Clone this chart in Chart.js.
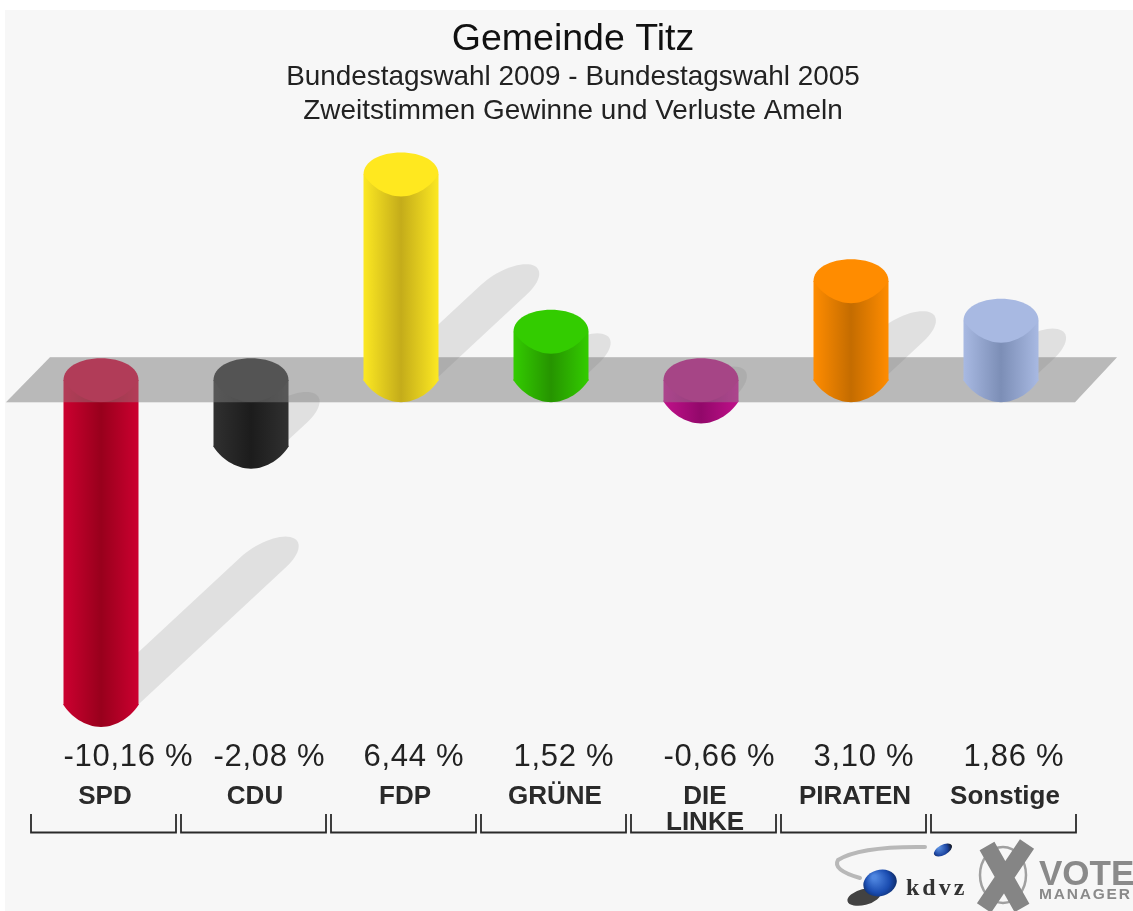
<!DOCTYPE html>
<html lang="de">
<head>
<meta charset="utf-8">
<title>Gemeinde Titz</title>
<script src="https://cdn.jsdelivr.net/npm/chart.js@4/dist/chart.umd.js"></script>
<style>
html,body{margin:0;padding:0;width:1133px;height:911px;overflow:hidden;background:#fff}
#wrap{position:absolute;left:5px;top:10px;width:1136px;height:901px}
canvas{filter:blur(0.7px)}
</style>
</head>
<body>
<div id="wrap"><canvas id="c" width="1136" height="901"></canvas></div>
<script>
const categories = ['SPD','CDU','FDP','GRÜNE',['DIE','LINKE'],'PIRATEN','Sonstige'];
const values = [-10.16,-2.08,6.44,1.52,-0.66,3.10,1.86];
const valueLabels = ['-10,16 %','-2,08 %','6,44 %','1,52 %','-0,66 %','3,10 %','1,86 %'];
const edgeColors = ['#cc0030','#303030','#fce822','#33cc00','#c0108a','#ff8c00','#a8b9e2'];
const coreColors = ['#98001c','#1c1c1c','#c4ac1a','#269400','#92086a','#c46c00','#7c8eb6'];
const capColors = ['#c80030','#2a2a2a','#ffe81f','#33cc00','#b5107e','#ff8c00','#a8b9e2'];
const titleText = 'Gemeinde Titz';
const subtitleLines = ['Bundestagswahl 2009 - Bundestagswahl 2005','Zweitstimmen Gewinne und Verluste Ameln'];
const positives = values.map(v => v > 0 ? v : null);
const negatives = values.map(v => v < 0 ? v : null);

function barFill(ctx){
  const chart = ctx.chart, x = chart.scales && chart.scales.x;
  if(!chart.chartArea || !x || x.width===0) return edgeColors[ctx.dataIndex||0];
  const i = ctx.dataIndex, cx = x.getPixelForValue(i), w = x.width/categories.length/4;
  const g = chart.ctx.createLinearGradient(cx-w,0,cx+w,0);
  g.addColorStop(0,edgeColors[i]); g.addColorStop(0.5,coreColors[i]); g.addColorStop(1,edgeColors[i]);
  return g;
}
const RY = 22;
function eachBar(chart, dsIndex, fn){
  chart.getDatasetMeta(dsIndex).data.forEach((el,i)=>{
    if(chart.data.datasets[dsIndex].data[i]===null) return;
    fn(el,i);
  });
}
function lowerEdge(ctx,cx,cy,r){
  ctx.lineTo(cx-r,cy);
  ctx.bezierCurveTo(cx-r*0.82,cy+RY*0.5,cx-r*0.42,cy+RY,cx,cy+RY);
  ctx.bezierCurveTo(cx+r*0.42,cy+RY,cx+r*0.82,cy+RY*0.5,cx+r,cy);
}
function endCap(ctx,cx,cy,r){
  ctx.beginPath(); ctx.moveTo(cx-r,cy-1); lowerEdge(ctx,cx,cy,r); ctx.lineTo(cx+r,cy-1); ctx.closePath();
}
function fullCap(ctx,cx,cy,r){
  ctx.beginPath(); ctx.moveTo(cx-r,cy);
  ctx.bezierCurveTo(cx-r,cy-RY*0.6,cx-r*0.55,cy-RY,cx,cy-RY);
  ctx.bezierCurveTo(cx+r*0.55,cy-RY,cx+r,cy-RY*0.6,cx+r,cy);
  ctx.bezierCurveTo(cx+r*0.82,cy+RY*0.5,cx+r*0.42,cy+RY,cx,cy+RY);
  ctx.bezierCurveTo(cx-r*0.42,cy+RY,cx-r*0.82,cy+RY*0.5,cx-r,cy);
  ctx.closePath();
}
function bandPath(ctx, y0){
  ctx.beginPath();
  ctx.moveTo(1,y0+22); ctx.lineTo(45,y0-23); ctx.lineTo(1112,y0-23); ctx.lineTo(1070,y0+22); ctx.closePath();
}
function drawShadow(ctx, cx, by, h){
  const ex = cx+0.5*h, ey = by-0.44*h, baseY = ey+(ex-cx)*0.93;
  const a=[35,-13], c=[-5,22], dx=ex-cx, dy=ey-baseY, len=Math.hypot(dx,dy)||1;
  const n=[-dy/len,dx/len];
  const t1=Math.atan2(c[0]*n[0]+c[1]*n[1],a[0]*n[0]+a[1]*n[1]);
  const pt=(ox,oy,t)=>[ox+a[0]*Math.cos(t)+c[0]*Math.sin(t),oy+a[1]*Math.cos(t)+c[1]*Math.sin(t)];
  const mid=pt(0,0,t1+Math.PI/2), s=(mid[0]*dx+mid[1]*dy)>0?1:-1;
  ctx.save();
  ctx.beginPath(); ctx.rect(cx+8,0,2000,by+5); ctx.clip();
  ctx.beginPath();
  for(let k=0;k<=32;k++){const p=pt(ex,ey,t1+s*Math.PI*k/32); k?ctx.lineTo(p[0],p[1]):ctx.moveTo(p[0],p[1]);}
  for(let k=32;k<=64;k++){const p=pt(cx,baseY,t1+s*Math.PI*k/32); ctx.lineTo(p[0],p[1]);}
  ctx.closePath(); ctx.fillStyle='rgba(0,0,0,0.09)'; ctx.fill();
  ctx.restore();
}
const cylinders = {
  id:'cylinders',
  beforeDraw(chart){
    const ctx=chart.ctx; ctx.save(); ctx.fillStyle='#f7f7f7'; ctx.fillRect(0,0,chart.width,chart.height); ctx.restore();
  },
  beforeDatasetsDraw(chart){
    const ctx=chart.ctx, y0=chart.scales.y.getPixelForValue(0), x=chart.scales.x;
    ctx.save();
    values.forEach((v,i)=>{
      const py=chart.scales.y.getPixelForValue(v);
      drawShadow(ctx,x.getPixelForValue(i), v<0?py:y0, Math.abs(py-y0));
    });
    bandPath(ctx,y0); ctx.fillStyle='rgba(0,0,0,0.14)'; ctx.fill();
    ctx.restore();
  },
  afterDatasetDraw(chart,args){
    const ctx=chart.ctx, y0=chart.scales.y.getPixelForValue(0);
    ctx.save();
    if(args.index===1){
      eachBar(chart,1,(el,i)=>{
        const r=el.width/2;
        ctx.fillStyle=barFill({chart,dataIndex:i});
        endCap(ctx,el.x,el.y,r); ctx.fill();
        ctx.fillStyle=capColors[i];
        fullCap(ctx,el.x,y0,r); ctx.fill();
      });
      bandPath(ctx,y0); ctx.fillStyle='rgba(146,146,146,0.41)'; ctx.fill();
    } else {
      eachBar(chart,0,(el,i)=>{
        const r=el.width/2;
        ctx.fillStyle=barFill({chart,dataIndex:i});
        endCap(ctx,el.x,y0,r); ctx.fill();
        ctx.fillStyle=capColors[i];
        fullCap(ctx,el.x,el.y,r); ctx.fill();
      });
    }
    ctx.restore();
  },
  afterDraw(chart){
    const ctx=chart.ctx, x=chart.scales.x, a=x.width/categories.length;
    ctx.save();
    // value labels, left aligned with each bar
    ctx.font='31px "Liberation Sans"'; ctx.fillStyle='#222'; ctx.textBaseline='middle'; ctx.textAlign='left';
    ctx.letterSpacing='0.7px';
    valueLabels.forEach((t,i)=>ctx.fillText(t,x.getPixelForValue(i)-a/4,747));
    ctx.letterSpacing='0px';
    // brackets under each category
    ctx.strokeStyle='#2a2a2a'; ctx.lineWidth=1.8;
    categories.forEach((c,i)=>{
      const cx=x.getPixelForValue(i);
      ctx.beginPath(); ctx.moveTo(cx-70,804); ctx.lineTo(cx-70,822.5); ctx.lineTo(cx+75,822.5); ctx.lineTo(cx+75,804); ctx.stroke();
    });
    // logos
    ctx.translate(-5,-10);
    ctx.strokeStyle='#b8b8b8'; ctx.lineWidth=4; ctx.lineCap='round';
    ctx.beginPath(); ctx.moveTo(925,847); ctx.quadraticCurveTo(860,846,838,860); ctx.quadraticCurveTo(832,870,860,878); ctx.stroke();
    let g=ctx.createRadialGradient(938,847,1,942,850,11);
    g.addColorStop(0,'#5a8fe0'); g.addColorStop(.6,'#1c44a0'); g.addColorStop(1,'#111');
    ctx.fillStyle=g; ctx.beginPath(); ctx.ellipse(943,850,10,5,-0.5,0,7); ctx.fill();
    ctx.fillStyle='rgba(20,20,20,.8)'; ctx.beginPath(); ctx.ellipse(864,897,17,8,-0.25,0,7); ctx.fill();
    g=ctx.createRadialGradient(874,877,2,880,883,19);
    g.addColorStop(0,'#4f86e0'); g.addColorStop(.6,'#1a4cb0'); g.addColorStop(1,'#0c2456');
    ctx.fillStyle=g; ctx.beginPath(); ctx.ellipse(880,883,17,13,-0.3,0,7); ctx.fill();
    ctx.fillStyle='#333'; ctx.font='bold 24px "Liberation Serif"'; ctx.textBaseline='alphabetic'; ctx.letterSpacing='3px'; ctx.fillText('kdvz',906,895); ctx.letterSpacing='0px';
    ctx.strokeStyle='#a0a0a0'; ctx.lineWidth=2.5; ctx.beginPath(); ctx.ellipse(1003,875,23,28,0,0,7); ctx.stroke();
    ctx.strokeStyle='#858585'; ctx.lineWidth=17; ctx.lineCap='butt';
    ctx.beginPath(); ctx.moveTo(987,846); ctx.lineTo(1022,908); ctx.moveTo(1027,844); ctx.lineTo(984,908); ctx.stroke();
    ctx.fillStyle='#8a8a8a'; ctx.font='bold 35px "Liberation Sans"'; ctx.fillText('VOTE',1039,885);
    ctx.font='bold 15.5px "Liberation Sans"'; ctx.letterSpacing='1.8px'; ctx.fillText('MANAGER',1039,899); ctx.letterSpacing='0px';
    ctx.restore();
  }
};
new Chart(document.getElementById('c'),{
  type:'bar',
  data:{labels:categories,datasets:[
    {label:'Gewinne',data:positives,backgroundColor:barFill,borderWidth:0},
    {label:'Verluste',data:negatives,backgroundColor:barFill,borderWidth:0}
  ]},
  options:{
    responsive:false,animation:false,
    layout:{padding:{top:0,left:0,right:0,bottom:75}},
    datasets:{bar:{categoryPercentage:1,barPercentage:0.5}},
    plugins:{
      legend:{display:false},tooltip:{enabled:false},
      title:{display:true,text:titleText,color:'#111',font:{family:'"Liberation Sans"',size:37.5,weight:'normal',lineHeight:1.14},padding:{top:8,bottom:0}},
      subtitle:{display:true,text:subtitleLines,color:'#222',font:{family:'"Liberation Sans"',size:27.9,weight:'normal',lineHeight:1.2},padding:{top:0,bottom:9}}
    },
    scales:{
      x:{stacked:true,grid:{display:false},border:{display:false},
         ticks:{color:'#2a2a2a',autoSkip:false,maxRotation:0,labelOffset:4,padding:0,font:{family:'"Liberation Sans"',size:26,weight:'bold',lineHeight:1}}},
      y:{stacked:true,position:'left',min:-12.38,max:7.62,grid:{display:false},border:{display:false},ticks:{display:false},afterFit(s){s.width=21;}},
      yR:{position:'right',min:0,max:1,grid:{display:false},border:{display:false},ticks:{display:false},afterFit(s){s.width=65;}}
    }
  },
  plugins:[cylinders]
});
</script>
</body>
</html>
